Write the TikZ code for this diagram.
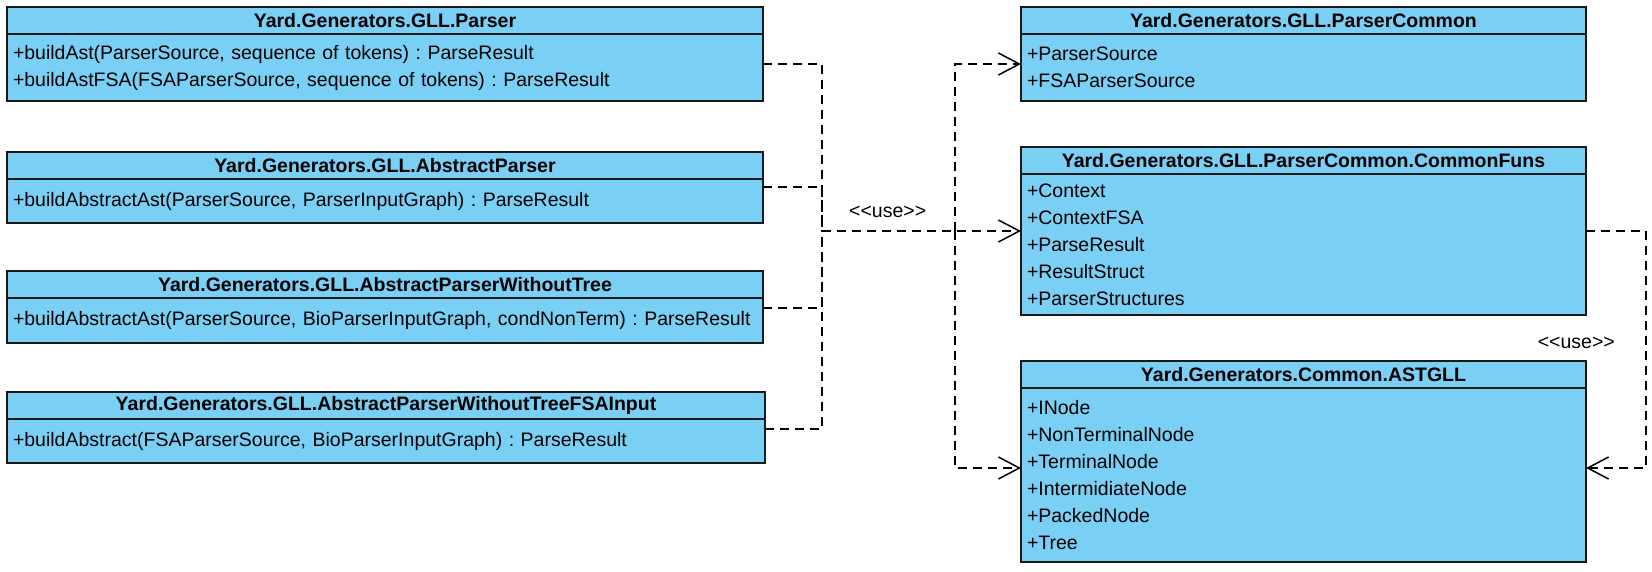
\documentclass[tikz,border=0pt]{standalone}
\usepackage{fontspec}
\setmainfont{Liberation Sans}
\usepackage{tikz}
\usetikzlibrary{positioning}
\usetikzlibrary{arrows.meta}
\usepackage{xcolor}
\definecolor{classblue}{RGB}{122,207,245}
\frenchspacing

\begin{document}
\begin{tikzpicture}[x=1pt, y=1pt,
		head/.style={draw=black!90, fill=classblue, line width=1.5pt, outer sep=0pt, inner sep=0pt, minimum height=27pt, font=\bfseries\fontsize{19.5}{27}\selectfont},
		body/.style={draw=black!90, fill=classblue, line width=1.5pt, outer sep=0pt, inner xsep=6pt, inner ysep=0pt, align=left, font=\fontsize{19.5}{27}\selectfont},
		dep/.style={black, line width=1.5pt, dash pattern=on 9pt off 6pt},
		uses/.style={dep, -{Straight Barb[length=21pt, width=22pt]}},
		uselabel/.style={inner sep=0pt, font=\fontsize{19.5}{27}\selectfont}]
	    		\useasboundingbox (0, 0) rectangle (1652, -572);
	    		% left column
	    		\node[head, minimum width=756pt] (parserhead) at (385, -20.5){Yard.Generators.GLL.Parser};
	    		\node[body, text width=744pt, minimum height=67pt, below=0pt of parserhead] (parserbody){+buildAst(ParserSource, sequence of tokens) : ParseResult\\+buildAstFSA(FSAParserSource, sequence of tokens) : ParseResult};
	    		\node[head, minimum width=756pt] (abshead) at (385, -165.5){Yard.Generators.GLL.AbstractParser};
	    		\node[body, text width=744pt, minimum height=44pt, below=0pt of abshead] (absbody){+buildAbstractAst(ParserSource, ParserInputGraph) : ParseResult};
	    		\node[head, minimum width=756pt] (notreehead) at (385, -284.5){Yard.Generators.GLL.AbstractParserWithoutTree};
	    		\node[body, text width=744pt, minimum height=45pt, below=0pt of notreehead] (notreebody){+buildAbstractAst(ParserSource, BioParserInputGraph, condNonTerm) : ParseResult};
	    		\node[head, minimum width=758pt] (fsahead) at (386, -405.5){Yard.Generators.GLL.AbstractParserWithoutTreeFSAInput};
	    		\node[body, text width=746pt, minimum height=44pt, below=0pt of fsahead] (fsabody){+buildAbstract(FSAParserSource, BioParserInputGraph) : ParseResult};
	    		% right column
	    		\node[head, minimum width=565pt] (commonhead) at (1303.5, -20.5){Yard.Generators.GLL.ParserCommon};
	    		\node[body, text width=553pt, minimum height=67pt, below=0pt of commonhead] (commonbody){+ParserSource\\+FSAParserSource};
	    		\node[head, minimum width=565pt] (funshead) at (1303.5, -160.5){Yard.Generators.GLL.ParserCommon.CommonFuns};
	    		\node[body, text width=553pt, minimum height=141pt, below=0pt of funshead] (funsbody){+Context\\+ContextFSA\\+ParseResult\\+ResultStruct\\+ParserStructures};
	    		\node[head, minimum width=565pt] (asthead) at (1303.5, -374.5){Yard.Generators.Common.ASTGLL};
	    		\node[body, text width=553pt, minimum height=174pt, below=0pt of asthead] (astbody){+INode\\+NonTerminalNode\\+TerminalNode\\+IntermidiateNode\\+PackedNode\\+Tree};
	    		% use connectors
	    		\coordinate (jl) at (822, -231);
	    		\coordinate (jr) at (955, -231);
	    		\coordinate (jo) at (1646, -343);
	    		\draw[dep] ([yshift=3.5pt]parserbody.east) -| (jl);
	    		\draw[dep] ([yshift=14pt]absbody.east) -| (jl);
	    		\draw[dep] ([yshift=12.5pt]notreebody.east) -| (jl);
	    		\draw[dep] ([yshift=12pt]fsabody.east) -| (jl);
	    		\draw[uses] (jl) -- node[uselabel, pos=0.33, above=13pt] (uselbl1){<{}<use>{}>} ([yshift=13.5pt]funsbody.west);
	    		\draw[uses] (jr) |- ([yshift=3.5pt]commonbody.west);
	    		\draw[uses] (jr) |- ([yshift=7pt]astbody.west);
	    		\draw[uses] ([yshift=13.5pt]funsbody.east) -| (jo) |- ([yshift=7pt]astbody.east);
	    		\node[uselabel, left=31pt of jo] (uselbl2){<{}<use>{}>};
			\end{tikzpicture}
\end{document}
